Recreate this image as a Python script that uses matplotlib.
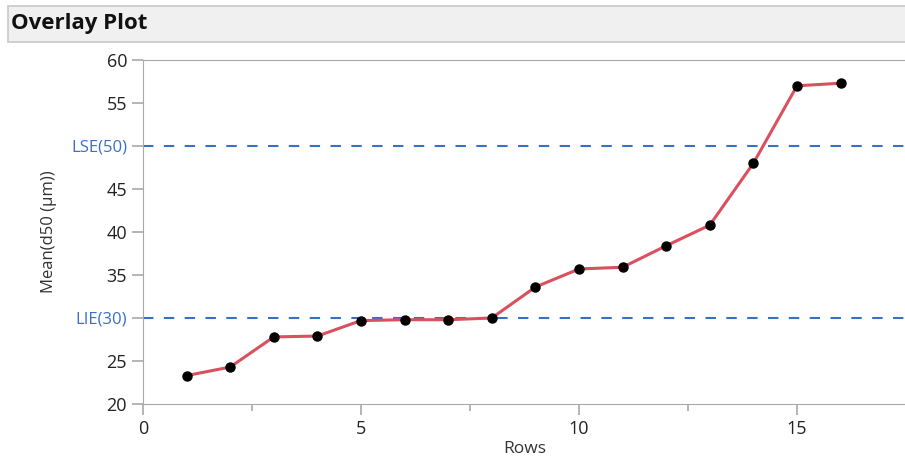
import numpy as np
import matplotlib; matplotlib.use("Agg")
import matplotlib.pyplot as plt
from matplotlib.patches import Rectangle
from matplotlib.ticker import MultipleLocator, FixedLocator

plt.rcParams['font.family'] = ['Open Sans', 'DejaVu Sans']

# data
rows = [1, 2, 3, 4, 5, 6, 7, 8, 9, 10, 11, 12, 13, 14, 15, 16]
mean_d50 = [23.3, 24.3, 27.8, 27.9, 29.7, 29.8, 29.8, 30.0,
            33.6, 35.7, 35.9, 38.4, 40.8, 48.0, 57.0, 57.3]
lie, lse = 30, 50
y_ticks = [20, 25, 30, 35, 40, 45, 50, 55, 60]
y_labels = ["20", "25", "LIE(30)", "35", "40", "45", "LSE(50)", "55", "60"]

W, H = 905, 466
fig = plt.figure(figsize=(W / 100, H / 100), dpi=100)

# title bar
fig.patches.append(Rectangle((8 / W, 1 - 42 / H), 900 / W, 36 / H,
                             transform=fig.transFigure, facecolor="#f0f0f0",
                             edgecolor="#c8c8c8", linewidth=1.2))
fig.text(11 / W, 1 - 24 / H, "Overlay Plot", fontsize=16, fontweight="bold",
         va="center", ha="left", color="#111111")

ax = fig.add_axes([143 / W, 62 / H, 763 / W, 344 / H])
grey = "#a8a8a8"
for s in ["left", "bottom", "top"]:
    ax.spines[s].set_color(grey)
ax.spines["right"].set_visible(False)

ax.axhline(lie, color="#3a6fc6", lw=1.5, ls=(0, (5, 5)), zorder=1)
ax.axhline(lse, color="#3a6fc6", lw=1.5, ls=(0, (5, 5)), zorder=1)

ax.plot(rows, mean_d50, color="#d9505f", lw=2.2, zorder=2)
ax.plot(rows, mean_d50, "o", color="black", ms=6.5, zorder=3)

ax.set_xlim(0, 17.5)
ax.set_ylim(20, 60)
ax.xaxis.set_major_locator(MultipleLocator(5))
ax.xaxis.set_minor_locator(FixedLocator([2.5, 7.5, 12.5]))
ax.yaxis.set_major_locator(FixedLocator(y_ticks))
ax.set_yticklabels(y_labels)

ax.tick_params(which="major", length=8, width=1.2, color=grey,
               labelsize=13, labelcolor="#222222")
ax.tick_params(which="minor", length=5, width=1.2, color=grey)
ax.tick_params(axis="x", which="both", top=False)

# spec limit labels in blue
for lab, v in zip(ax.get_yticklabels(), y_ticks):
    if v in (lie, lse):
        lab.set_color("#3a6fc6")
        lab.set_fontsize(12)

ax.set_xlabel("Rows", fontsize=12.5, color="#333333", labelpad=2)
ax.set_ylabel("Mean(d50 (µm))", fontsize=12, color="#333333", labelpad=10)

fig.savefig("out.png", dpi=100)
